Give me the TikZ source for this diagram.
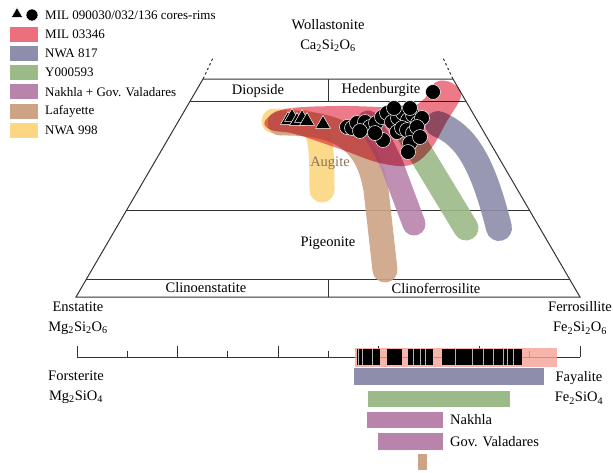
\documentclass[tikz,border=0pt]{standalone}
\usepackage{fontspec}
\setmainfont{Liberation Serif}
\usetikzlibrary{calc,shapes.geometric}

\definecolor{milred}{HTML}{EC6F7E}
\definecolor{nwaslate}{HTML}{8E8DAB}
\definecolor{ygreen}{HTML}{9BBA88}
\definecolor{nakpurple}{HTML}{B884AC}
\definecolor{laftan}{HTML}{CDA385}
\definecolor{nwayellow}{HTML}{FCD680}
\definecolor{barpink}{HTML}{F4A196}
\definecolor{augtext}{HTML}{8E7255}

\begin{document}
\begin{tikzpicture}[x=1pt,y=-1pt,
        font=\fontsize{14.5}{20}\selectfont,
        frame/.style={line width=1pt,draw=black!80},
        lbl/.style={inner sep=1pt,align=center},
        band/.style={line width=25pt,line cap=round,opacity=.9},
        tri/.style={regular polygon,regular polygon sides=3,fill=black,draw=white,line width=.5pt,minimum size=17pt,inner sep=0pt},
        dot/.style={circle,fill=black,draw=white,line width=.5pt,minimum size=15pt,inner sep=0pt},
        swatch/.style={minimum width=28pt,minimum height=15pt,inner sep=0pt},
        legtext/.style={anchor=west,inner sep=1pt,font=\fontsize{13}{15}\selectfont}]

    \useasboundingbox (0,0) rectangle (613,472);

    % legend
    \node[tri,minimum size=13pt] (ltri) at (17,14) {};
    \node[dot,minimum size=12pt] (ldot) at (32,15) {};
    \node[legtext] (lmil) at (44,15) {MIL 090030/032/136 cores-rims};
    \foreach \c/\t [count=\i] in {milred/MIL 03346,nwaslate/NWA 817,ygreen/Y000593,
            nakpurple/Nakhla + Gov. Valadares,laftan/Lafayette,nwayellow/NWA 998}{
        \node[swatch,fill=\c] (sw\i) at (24,{15+19.2*\i}) {};
        \node[legtext] (lg\i) at (44,{15+19.2*\i}) {\t};
    }

    % quadrilateral
    \coordinate (EN) at (76,297);
    \coordinate (FS) at (580,297);
    \coordinate (DI) at (203,79);
    \coordinate (HD) at (453,79);
    \coordinate (DIt) at (213,58);
    \coordinate (HDt) at (443,58);
    \draw[frame] (EN) -- (DI) -- (HD) -- (FS) -- cycle;
    \draw[frame,dash pattern=on 2.5pt off 2.5pt] (DI) -- (DIt);
    \draw[frame,dash pattern=on 2.5pt off 2.5pt] (HD) -- (HDt);
    \draw[frame] ($(EN)!.0826!(DI)$) -- ($(FS)!.0826!(HD)$);
    \draw[frame] ($(EN)!.399!(DI)$) -- ($(FS)!.399!(HD)$);
    \draw[frame] ($(EN)!.899!(DI)$) -- ($(FS)!.899!(HD)$);
    \draw[frame] (328,279) -- (328,297);
    \draw[frame] (328,79) -- (328,101);

    \node[lbl] (wol) at (328,35.5) {Wollastonite\\Ca\textsubscript{2}Si\textsubscript{2}O\textsubscript{6}};
    \node[lbl] (ens) at (78,318) {Enstatite\\Mg\textsubscript{2}Si\textsubscript{2}O\textsubscript{6}};
    \node[lbl] (fer) at (580,318) {Ferrosillite\\Fe\textsubscript{2}Si\textsubscript{2}O\textsubscript{6}};
    \node[lbl] (dio) at (258,91) {Diopside};
    \node[lbl] (hed) at (381,90) {Hedenburgite};
    \node[lbl] (cen) at (206,288) {Clinoenstatite};
    \node[lbl] (cfs) at (436,288) {Clinoferrosilite};
    \node[lbl] (pig) at (328,243) {Pigeonite};

    % fields of the meteorites
    \draw[band,nwayellow] (274,121) -- (300,122) .. controls (320,123) and (322,135) .. (322,190);
    \draw[band,laftan] (280,123) .. controls (340,122) and (368,140) .. (376,190) -- (385,270);
    \draw[band,nakpurple,line width=23pt] (368,122) .. controls (380,140) .. (392,165) -- (414,224);
    \draw[band,ygreen] (403,124) -- (466,228);
    \draw[band,nwaslate,line width=26pt] (438,124) .. controls (465,135) and (482,160) .. (499,228);
    \fill[milred,opacity=.92,blend mode=multiply] plot[smooth cycle,tension=.6] coordinates {
        (265,121) (285,109) (340,106) (405,107) (424,99) (436,82) (452,83) (461,96)
        (447,121) (430,150) (410,165) (380,163) (340,149) (295,134) (271,130)};
    \node[lbl,text=augtext] (aug) at (330,163) {Augite};

    % MIL 090030/032/136 analyses
    \foreach \x/\y [count=\i] in {288/120,292/117,297/121,302/118,307/121,323/124}
        \node[tri] (t\i) at (\x,\y) {};
    \foreach \x/\y [count=\i] in {347/127,352/128,357/123,365/122,370/127,376/123,382/117,387/113,
            392/122,398/118,403/113,408/120,413/115,418/123,422/118,397/132,402/128,
            407/130,413/133,383/140,410/143,408/152,417/127,360/131,375/133,394/108,
            410/108,420/137,433/92}
        \node[dot] (c\i) at (\x,\y) {};

    % Fo-Fa scale
    \draw[frame] (77,357) -- (580,357);
    \foreach \i in {0,...,10}{
        \pgfmathsetmacro{\tk}{mod(\i,2)==0 ? 346 : 351}
        \draw[frame] ({77+50.3*\i},357) -- ({77+50.3*\i},\tk);
    }
    \fill[barpink,opacity=.8] (355,348) rectangle (557,367);
    \fill[black] (357,349) rectangle (380,365);
    \fill[black] (387,349) rectangle (402,365);
    \fill[black] (408,349) rectangle (433,365);
    \fill[black] (442,349) rectangle (522,365);
    \foreach \x in {358,362,372,413,420,425,455,472,483,493,503,507,513}
        \draw[gray!60,line width=.6pt] (\x,349) -- (\x,365);
    \fill[nwaslate] (354,368) rectangle (544,385);
    \fill[ygreen] (368,391) rectangle (510,407);
    \fill[nakpurple] (367,412) rectangle (443,428);
    \fill[nakpurple] (378,433) rectangle (443,450);
    \fill[laftan] (418,454) rectangle (427,470);

    \node[lbl] (fo) at (76,387) {Forsterite\\Mg\textsubscript{2}SiO\textsubscript{4}};
    \node[lbl] (fa) at (579,388) {Fayalite\\Fe\textsubscript{2}SiO\textsubscript{4}};
    \node[anchor=west,inner sep=1pt] (nak) at (449,420) {Nakhla};
    \node[anchor=west,inner sep=1pt] (gov) at (449,442) {Gov. Valadares};
\end{tikzpicture}
\end{document}
